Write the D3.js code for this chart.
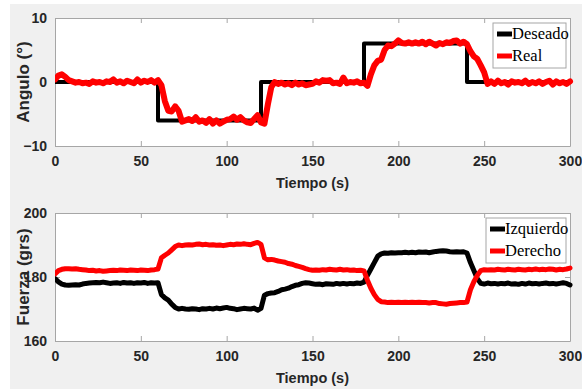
<!DOCTYPE html>
<html>
<head>
<meta charset="utf-8">
<script src="https://cdn.jsdelivr.net/npm/d3@7"></script>
<style>
  body { margin:0; background:#fff; }
  svg { display:block; }
  .tick text { font-family: Arial, "Liberation Sans", sans-serif; font-weight:bold; font-size:14px; fill:#262626; }
</style>
</head>
<body>
<svg></svg>
<script>

// tiempo de muestreo (s), una muestra cada 2 s
var tiempo = d3.range(0, 301, 2);

// panel superior: angulo (grados)
var deseadoT = [0, 60, 60, 120, 120, 180, 180, 240, 240, 300];
var deseadoV = [0, 0, -6, -6, 0, 0, 6, 6, 0, 0];
var real = [
  0.4, 1.0, 1.2, 0.8, 0.3, 0.1, -0.1, 0, -0.2, -0.1,
  -0.3, 0.1, -0.1, 0, -0.2, 0.1, 0, 0.4, -0.1, 0.1,
  -0.2, 0.2, 0, -0.2, 0.4, -0.1, 0.2, 0, 0.3, -0.1,
  0.3, -0.5, -3.0, -4.5, -4.6, -3.8, -4.5, -6.2, -6.0, -5.8,
  -6.1, -5.5, -6.2, -6.0, -6.4, -5.8, -6.5, -6.0, -6.5, -6.2,
  -5.9, -5.8, -5.4, -5.9, -5.5, -6.0, -6.3, -6.4, -5.8, -5.2,
  -6.3, -6.5, -3.5, -0.8, 0, -0.3, -0.1, -0.4, -0.2, -0.5,
  -0.1, -0.4, -0.2, -0.5, -0.4, -0.3, 0.1, -0.1, 0.3, 0.2,
  0.3, -0.2, -0.1, -0.3, 0.7, -0.2, 0, -0.1, 0.1, -0.2,
  -0.1, -0.6, 1.2, 2.6, 3.3, 3.5, 5.0, 5.7, 5.6, 6.0,
  6.5, 6.1, 6.0, 6.2, 6.0, 6.2, 6.0, 6.3, 5.9, 6.3,
  6.0, 5.7, 6.1, 5.9, 6.2, 6.1, 6.4, 6.5, 6.0, 6.3,
  5.9, 4.8, 4.0, 3.6, 2.6, 1.5, -0.3, 0.1, -0.3, 0.2,
  -0.2, 0, -0.4, 0.1, -0.1, 0, -0.2, 0.2, -0.3, 0,
  -0.2, 0.1, -0.3, 0, 0.2, -0.4, 0.1, -0.2, 0, -0.3,
  0.1
];

// panel inferior: fuerza (grs)
var izquierdo = [
  179.5, 178.5, 177.8, 177.5, 177.4, 177.5, 177.6, 177.5, 177.8, 178,
  178.1, 178.2, 178.3, 178.2, 178.4, 178.2, 178, 178.1, 178.2, 178,
  178.3, 178.1, 178.2, 178, 178.2, 178.1, 178.3, 178, 178.2, 178.1,
  178.2, 174.5, 173.5, 172.8, 171.5, 170.5, 170, 170.2, 170, 169.9,
  170.1, 170, 169.8, 170.1, 170, 170.2, 170, 170.3, 170.1, 170.3,
  170.5, 170.2, 170.1, 169.8, 170, 170.2, 170.1, 170, 170.3, 169.6,
  170.2, 174.3, 174.8, 175, 175.1, 175.5, 176, 176.2, 176.5, 177,
  177.4, 177.6, 178, 178.2, 178.1, 177.9, 177.7, 177.8, 177.6, 177.9,
  177.8, 177.7, 178, 177.8, 178, 177.8, 178, 177.9, 178.1, 178,
  178.4, 180.5, 182.5, 184.5, 186.5, 187.2, 187.5, 187.4, 187.6, 187.5,
  187.6, 187.6, 187.7, 187.6, 187.7, 187.6, 187.8, 187.7, 187.8, 187.6,
  187.8, 188, 188.1, 188.2, 188.1, 187.9, 187.8, 187.9, 187.8, 187.9,
  187.5, 184.5, 182, 179.5, 178, 177.8, 178.1, 177.9, 178, 177.8,
  178, 177.9, 178.1, 177.8, 177.9, 177.7, 178, 177.8, 178.1, 177.9,
  178, 177.8, 178, 178.1, 177.9, 178, 177.8, 178, 178.2, 178,
  177.5
];
var derecho = [
  181, 182, 182.4, 182.6, 182.6, 182.5, 182.6, 182.4, 182.3, 182.2,
  182, 182.1, 181.9, 182, 181.8, 181.9, 182, 182.1, 182, 182.2,
  182.1, 182, 182.2, 182.1, 182, 182.2, 182.1, 182, 182.2, 182.3,
  182.5, 186, 186.8, 187.5, 188.5, 189.5, 190, 189.8, 190, 190.1,
  190, 190.2, 190.3, 190.1, 190.2, 190, 190.1, 189.9, 190, 189.8,
  190, 190.2, 190.1, 190.3, 190.2, 190.4, 190.2, 190.1, 190.5, 190.8,
  190.2, 186, 185.4, 185.5, 185.3, 185, 184.8, 184.6, 184.2, 184,
  183.6, 183.3, 183, 182.6, 182.3, 182.1, 182.2, 182.1, 182.3, 182.2,
  182.4, 182.3, 182.2, 182.4, 182.2, 182.3, 182.1, 182.2, 182, 182.1,
  181.9, 179, 176.5, 174.5, 173, 172.3, 172.2, 172, 172.1, 172,
  172.1, 172, 172.1, 172, 172.1, 172, 172.1, 172, 172, 171.9,
  172, 172, 171.7, 171.6, 171.5, 171.7, 171.8, 171.9, 172, 172,
  172.2, 176, 178.5, 180.5, 182, 182.3, 182.2, 182.3, 182.2, 182.4,
  182.3, 182.2, 182.4, 182.3, 182.2, 182.4, 182.3, 182.2, 182.4, 182.3,
  182.5, 182.3, 182.4, 182.3, 182.5, 182.4, 182.2, 182.4, 182.3, 182.5,
  182.8
];

var xTicks = [0, 50, 100, 150, 200, 250, 300];
var yTicksTop = [-10, 0, 10];
var yTicksBot = [160, 180, 200];

var width = 582;
var height = 389;

var svg = d3.select("svg")
            .attr("width", width)
            .attr("height", height);

svg.append("rect")
   .attr("x", 10)
   .attr("y", 4)
   .attr("width", width - 10)
   .attr("height", height - 4)
   .attr("fill", "#f0f0f0");

var left = 55, right = 570;

function drawPanel(cfg){
  var xScale = d3.scaleLinear()
                 .domain([0, 300])
                 .range([left, right]);
  var yScale = d3.scaleLinear()
                 .domain(cfg.yDomain)
                 .range([cfg.bottom, cfg.top]);

  var g = svg.append("g");

  g.append("rect")
   .attr("x", left)
   .attr("y", cfg.top)
   .attr("width", right - left)
   .attr("height", cfg.bottom - cfg.top)
   .attr("fill", "#fff");

  // ejes con marcas hacia adentro, estilo caja
  var xAxis = d3.axisBottom(xScale).tickValues(xTicks).tickSizeInner(-5).tickSizeOuter(0).tickPadding(10);
  var xAxisTop = d3.axisTop(xScale).tickValues(xTicks).tickSizeInner(-5).tickSizeOuter(0).tickFormat("");
  var yAxis = d3.axisLeft(yScale).tickValues(cfg.yTicks).tickSizeInner(-5).tickSizeOuter(0).tickPadding(8);
  var yAxisR = d3.axisRight(yScale).tickValues(cfg.yTicks).tickSizeInner(-5).tickSizeOuter(0).tickFormat("");

  var ax = [
    g.append("g").attr("transform", "translate(0," + cfg.bottom + ")").call(xAxis),
    g.append("g").attr("transform", "translate(0," + cfg.top + ")").call(xAxisTop),
    g.append("g").attr("transform", "translate(" + left + ",0)").call(yAxis),
    g.append("g").attr("transform", "translate(" + right + ",0)").call(yAxisR)
  ];
  ax.forEach(function(a){
    a.selectAll("path").attr("stroke", "#a6a6a6");
    a.selectAll("line").attr("stroke", "#a6a6a6");
  });

  var line = d3.line()
               .x(function(d){ return xScale(d[0]); })
               .y(function(d){ return yScale(d[1]); });

  var clipId = "clip" + cfg.top;
  g.append("clipPath").attr("id", clipId)
   .append("rect")
   .attr("x", left).attr("y", cfg.top - 4)
   .attr("width", right - left + 4).attr("height", cfg.bottom - cfg.top + 8);

  cfg.series.forEach(function(s){
    g.append("path")
     .datum(s.data)
     .attr("clip-path", "url(#" + clipId + ")")
     .attr("fill", "none")
     .attr("stroke", s.color)
     .attr("stroke-width", s.width)
     .attr("stroke-linejoin", "round")
     .attr("stroke-linecap", "round")
     .attr("d", line);
  });

  // etiquetas
  g.append("text")
   .text("Tiempo (s)")
   .attr("x", (left + right) / 2)
   .attr("y", cfg.bottom + 42)
   .attr("text-anchor", "middle")
   .attr("font-family", "Arial, 'Liberation Sans', sans-serif")
   .attr("font-weight", "bold")
   .attr("font-size", "14.5px")
   .attr("fill", "#262626");

  g.append("text")
   .text(cfg.yLabel)
   .attr("transform", "translate(29," + ((cfg.top + cfg.bottom) / 2) + ") rotate(-90)")
   .attr("text-anchor", "middle")
   .attr("font-family", "Arial, 'Liberation Sans', sans-serif")
   .attr("font-weight", "bold")
   .attr("font-size", "17px")
   .attr("fill", "#262626");

  // leyenda
  var lg = g.append("g");
  lg.append("rect")
    .attr("x", cfg.legend.x)
    .attr("y", cfg.legend.y)
    .attr("width", cfg.legend.w)
    .attr("height", 45)
    .attr("fill", "#fff")
    .attr("stroke", "#a6a6a6");
  cfg.series.forEach(function(s, i){
    var yy = cfg.legend.y + 11 + i * 22;
    lg.append("line")
      .attr("x1", cfg.legend.x + 4)
      .attr("x2", cfg.legend.x + 19)
      .attr("y1", yy)
      .attr("y2", yy)
      .attr("stroke", s.color)
      .attr("stroke-width", 5);
    lg.append("text")
      .text(s.name)
      .attr("x", cfg.legend.x + 19)
      .attr("y", yy + 5)
      .attr("font-family", "'Liberation Serif', 'Times New Roman', serif")
      .attr("font-size", "16.5px")
      .attr("fill", "#000");
  });
}

function pares(t, v){
  return t.map(function(d, i){ return [d, v[i]]; });
}

drawPanel({
  top: 18, bottom: 146,
  yDomain: [-10, 10], yTicks: yTicksTop,
  yLabel: "Angulo (°)",
  legend: {x: 493, y: 23, w: 73},
  series: [
    {name: "Deseado", color: "#000", width: 4, data: pares(deseadoT, deseadoV)},
    {name: "Real", color: "#ff0000", width: 6, data: pares(tiempo, real)}
  ]
});

drawPanel({
  top: 213, bottom: 341,
  yDomain: [160, 200], yTicks: yTicksBot,
  yLabel: "Fuerza (grs)",
  legend: {x: 486, y: 218, w: 80},
  series: [
    {name: "Izquierdo", color: "#000", width: 5, data: pares(tiempo, izquierdo)},
    {name: "Derecho", color: "#ff0000", width: 5, data: pares(tiempo, derecho)}
  ]
});

</script>
</body>
</html>
